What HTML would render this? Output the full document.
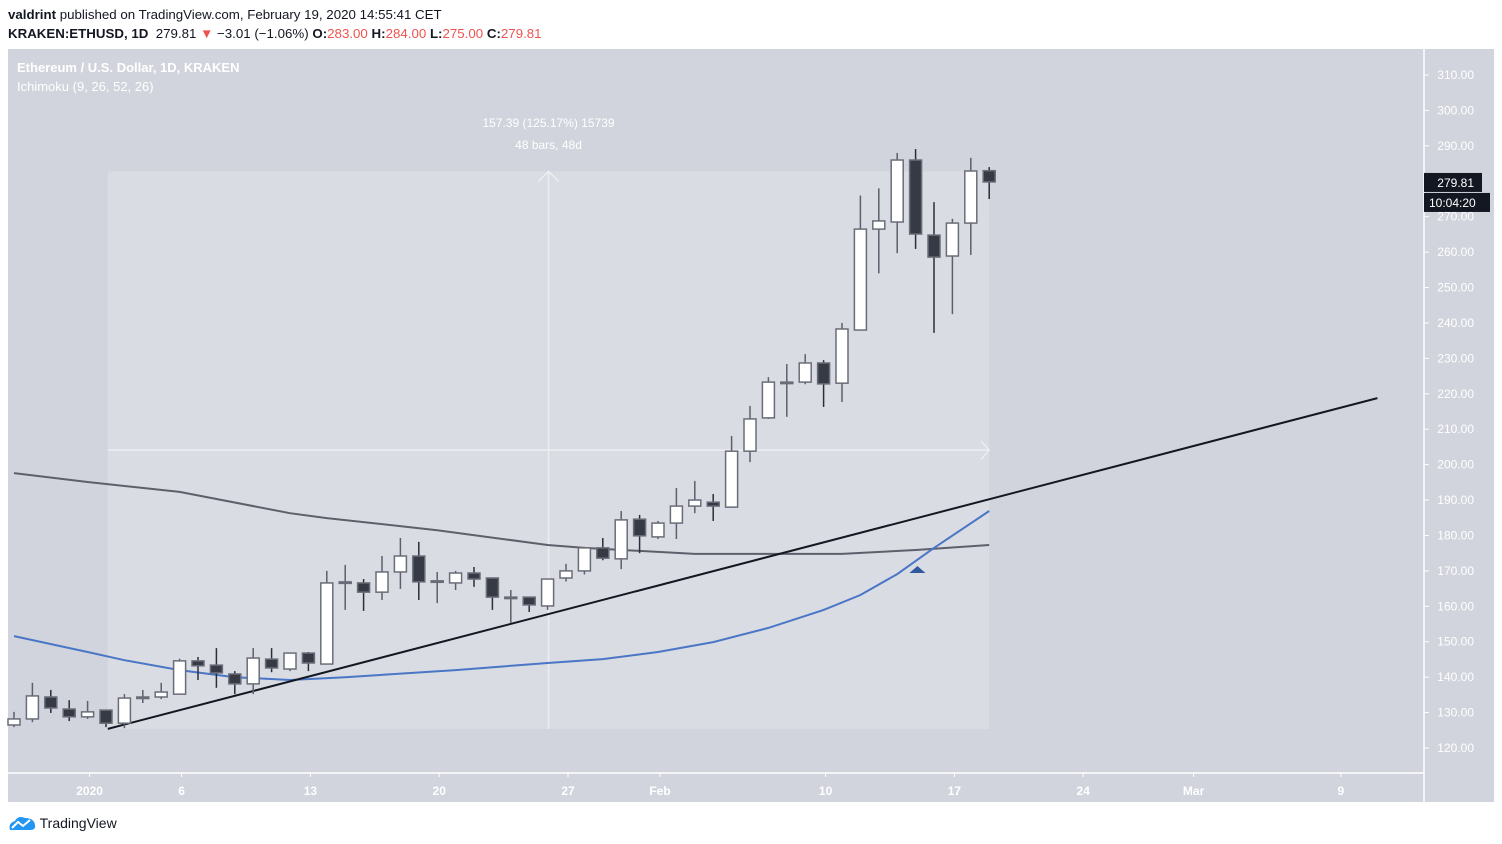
<!DOCTYPE html>
<html><head><meta charset="utf-8"><style>
body{margin:0;width:1502px;height:844px;background:#fff;font-family:"Liberation Sans",sans-serif;overflow:hidden;position:relative}
.t{position:absolute;font-size:13.3px;color:#131722;white-space:nowrap}
</style></head><body>
<div class="t" style="left:8px;top:7px"><b>valdrint</b> published on TradingView.com, February 19, 2020 14:55:41 CET</div>
<div class="t" style="left:8px;top:26px"><b>KRAKEN:ETHUSD, 1D</b>&nbsp; 279.81 <span style="color:#ef5350">▼</span> −3.01 (−1.06%) <b>O:</b><span style="color:#ef5350">283.00</span> <b>H:</b><span style="color:#ef5350">284.00</span> <b>L:</b><span style="color:#ef5350">275.00</span> <b>C:</b><span style="color:#ef5350">279.81</span></div>
<svg id="chart" width="1502" height="844" style="position:absolute;left:0;top:0" xmlns="http://www.w3.org/2000/svg">
<rect x="8" y="49" width="1486" height="753" fill="#d1d4dc"/>
<line x1="1424" y1="49" x2="1424" y2="802" stroke="#fff" stroke-width="1.5"/>
<line x1="8" y1="773" x2="1424" y2="773" stroke="#fff" stroke-width="1.5"/>
<text x="17" y="72" fill="#fff" font-size="13" font-weight="bold" font-family="Liberation Sans">Ethereum / U.S. Dollar, 1D, KRAKEN</text>
<text x="17" y="91" fill="#fff" font-size="13" font-family="Liberation Sans">Ichimoku (9, 26, 52, 26)</text>
<g id="measure"></g>
<g id="lines"></g>
<g id="candles"></g>
<g id="axes"></g>
</svg>
<div class="t" style="left:8px;top:815px;font-size:14px"><svg width="28" height="16" style="vertical-align:-3px"><path d="M2 15 Q0 8 7 6 Q10 0 17 3 Q26 3 27 10 Q28 15 22 15Z" fill="#2196f3"/><polyline points="4,13 10,7 15,11 22,5" stroke="#fff" stroke-width="2" fill="none"/></svg> TradingView</div>
<script>
const opens=[126.5,128.2,134.4,131,128.8,130.7,127,134.1,134.4,135.2,144.6,143.4,140.9,138.1,145.1,142.3,146.8,143.7,166.6,166.6,164,169.7,174.2,166.9,166.6,169.4,168,162.6,162.6,160.1,168,170,176.5,173.4,184.6,179.6,183.5,188.3,189.4,188,203.8,213.2,223,223.3,228.7,223,238,266.5,268.5,286,264.8,258.9,268.2,283];
const highs=[130.2,138.4,136.4,133.5,133.3,130.7,135.2,136.4,138.4,145.2,145.7,148.2,141.7,148.2,148.2,146.8,147.1,170,171.7,167.7,174.2,179.3,178.2,169.7,170,171.1,168,164.6,162.6,167.7,172,176.8,179.3,186.9,185.8,184.1,193.4,195.4,191.7,208.1,216.6,224.7,228.4,231.2,229.5,240,276,278,288,289.1,274.1,269.4,286.6,284];
const lows=[125.9,127.3,129.9,127.6,128.2,125.9,125.6,132.7,133.8,135.2,139.2,137,135.2,135.2,141.4,141.7,141.7,143.7,159,158.7,161.8,164.9,161.8,160.9,164.6,165.5,159,155.3,158.4,159,167,169,173,170.5,175,179,179,186.3,184.1,187.8,200.7,212.9,213.5,222.7,216.3,217.7,238,254,259.7,260.9,237.2,242.5,259.2,275];
const closes=[128.2,134.7,131.3,128.8,130.2,127,134.1,134.4,135.8,144.6,143.2,141.2,138.1,145.4,142.6,146.8,144,166.6,166.9,164,169.7,174.2,166.9,167.2,169.4,167.7,162.6,162.6,160.4,167.7,170,176.5,173.6,184.4,179.9,183.5,188.3,190,188.3,203.8,212.9,223.3,223.3,228.7,222.8,238.3,266.5,268.8,286,265.1,258.6,268.2,282.9,279.81];
const kijunDays=[0,4,9,15,17,23,29,31,37,45,49,53];
const kijunVals=[197.6,195.1,192.3,186.3,184.9,181.5,177.3,176.5,174.8,174.8,175.9,177.3];
const blueDays=[0,4,6,9,12,15,18,24,29,32,35,38,41,44,46,48,50,53];
const blueVals=[151.6,147.1,144.8,142,140,139.2,140,142,144,145.1,147.1,149.9,153.9,159,163.2,169.1,176.5,186.9];
const trendDays=[5.1,74.1];
const trendVals=[125.4,218.8];
const priceTicks=[120,130,140,150,160,170,180,190,200,210,220,230,240,250,260,270,280,290,300,310];
const timeLabels=["2020","6","13","20","27","Feb","10","17","24","Mar","9"];
const timeDays=[4,9,16,23,30,35,44,51,58,64,72];
const measureFromDay=5.1, measureToDay=53, measureFromPrice=125.4, measureToPrice=282.8;
const measureText=["157.39 (125.17%) 15739","48 bars, 48d"];

const X=d=>14+d*18.4;
const Y=p=>748-(p-120)*3.542;
const NS="http://www.w3.org/2000/svg";
function mk(tag,parent,attrs){const e=document.createElementNS(NS,tag);for(const k in attrs)e.setAttribute(k,attrs[k]);document.getElementById(parent).appendChild(e);return e;}

let r=mk('rect','measure',{x:X(measureFromDay),y:Y(measureToPrice),width:X(measureToDay)-X(measureFromDay),height:Y(measureFromPrice)-Y(measureToPrice),fill:'#dadce3'});


const mx=(X(measureFromDay)+X(measureToDay))/2, my=(Y(measureFromPrice)+Y(measureToPrice))/2;
let vl=mk('line','measure',{x1:mx,x2:mx,y1:Y(measureToPrice),y2:Y(measureFromPrice),stroke:'#eceef2','stroke-width':1.5});


let va=mk('polyline','measure',{points:`${mx-10},${Y(measureToPrice)+10} ${mx},${Y(measureToPrice)} ${mx+10},${Y(measureToPrice)+10}`,stroke:'#eceef2',fill:'none','stroke-width':1.5});


let hl=mk('line','measure',{x1:X(measureFromDay),x2:X(measureToDay),y1:my,y2:my,stroke:'#eceef2','stroke-width':1.5});


const ex=X(measureToDay);
let ha=mk('polyline','measure',{points:`${ex-8},${my-9} ${ex},${my} ${ex-8},${my+9}`,stroke:'#eceef2',fill:'none','stroke-width':1.5});


measureText.forEach((t,i)=>{let e=mk('text','measure',{x:mx,y:127+i*22,fill:'#fff','font-size':12,'text-anchor':'middle','font-family':'Liberation Sans'});e.textContent=t;

});

function path(days,vals){return days.map((d,i)=>(i?'L':'M')+X(d).toFixed(1)+','+Y(vals[i]).toFixed(1)).join(' ');}
let k=mk('path','lines',{d:path(kijunDays,kijunVals),stroke:'#5d606b','stroke-width':2,fill:'none'});


let b=mk('path','lines',{d:path(blueDays,blueVals),stroke:'#4a76c6','stroke-width':2,fill:'none'});


let tl=mk('path','lines',{d:path(trendDays,trendVals),stroke:'#131722','stroke-width':2,fill:'none'});


let tri=mk('polygon','lines',{points:`${X(49.1)-8},573 ${X(49.1)},566 ${X(49.1)+8},573`,fill:'#2f5aa0'});



opens.forEach((o,i)=>{const c=closes[i],x=X(i),up=c>=o;
let w=mk('line','candles',{x1:x,x2:x,y1:Y(highs[i]),y2:Y(lows[i]),stroke:up?'#5d606b':'#2a2e39','stroke-width':1.5});


const top=Y(Math.max(o,c)),h=Math.max(Math.abs(Y(o)-Y(c)),1.5);
let bd=mk('rect','candles',{x:x-6,y:top,width:12,height:h,fill:up?'#ffffff':'#363a45',stroke:'#6a6d78','stroke-width':1.5});

});

priceTicks.forEach(p=>{let t=mk('text','axes',{x:1474,y:Y(p)+4,fill:'#fff','font-size':12,'text-anchor':'end','font-family':'Liberation Sans'});t.textContent=p.toFixed(2);


let tk=mk('line','axes',{x1:1424,x2:1429,y1:Y(p),y2:Y(p),stroke:'#fff'});

});
timeLabels.forEach((l,i)=>{const x=X(timeDays[i])+2;let t=mk('text','axes',{x:x,y:795,fill:'#fff','font-size':12,'font-weight':'bold','text-anchor':'middle','font-family':'Liberation Sans'});t.textContent=l;


let tk=mk('line','axes',{x1:x,x2:x,y1:773,y2:777,stroke:'#fff'});

});
const last=closes[closes.length-1];
let pb=mk('rect','axes',{x:1424,y:Y(last)-9,width:58,height:19,fill:'#131722'});


let pt=mk('text','axes',{x:1474,y:Y(last)+5,fill:'#fff','font-size':12,'text-anchor':'end','font-family':'Liberation Sans'});pt.textContent=last.toFixed(2);


let cb=mk('rect','axes',{x:1424,y:Y(last)+11,width:66,height:19,fill:'#131722'});


let ct=mk('text','axes',{x:1429,y:Y(last)+25,fill:'#fff','font-size':12,'font-family':'Liberation Sans'});ct.textContent='10:04:20';


</script>
</body></html>
